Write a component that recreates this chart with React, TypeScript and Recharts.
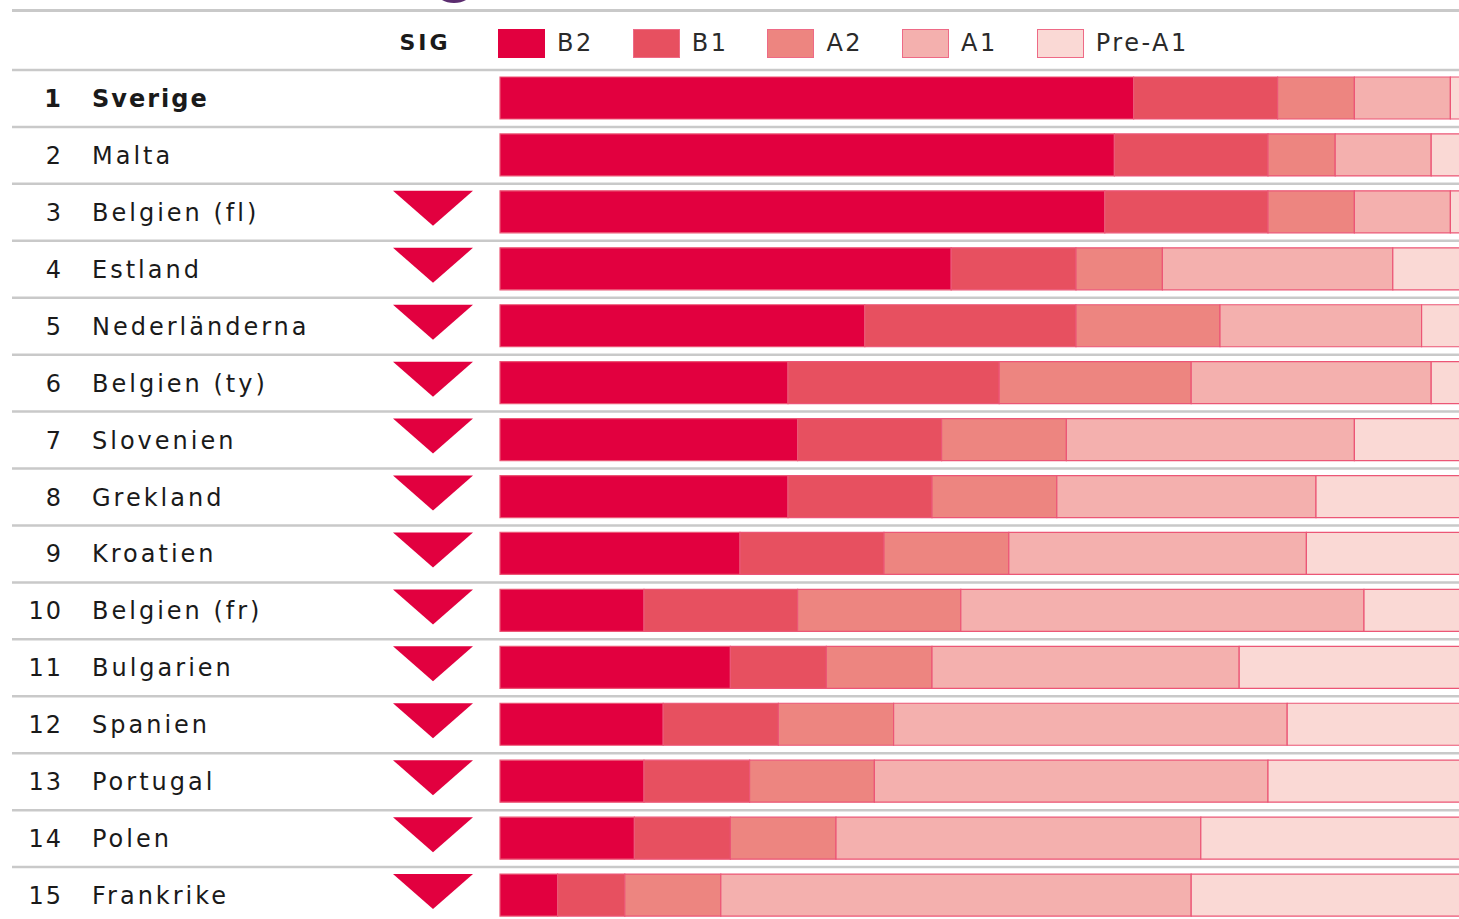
import React from 'react';
import { BarChart, Bar, XAxis, YAxis, Legend } from 'recharts';

const ranks = [1, 2, 3, 4, 5, 6, 7, 8, 9, 10, 11, 12, 13, 14, 15];
const countries = [
  'Sverige', 'Malta', 'Belgien (fl)', 'Estland', 'Nederländerna', 'Belgien (ty)', 'Slovenien',
  'Grekland', 'Kroatien', 'Belgien (fr)', 'Bulgarien', 'Spanien', 'Portugal', 'Polen', 'Frankrike',
];
const sig = [false, false, true, true, true, true, true, true, true, true, true, true, true, true, true];
const b2 = [66, 64, 63, 47, 38, 30, 31, 30, 25, 15, 24, 17, 15, 14, 6];
const b1 = [15, 16, 17, 13, 22, 22, 15, 15, 15, 16, 10, 12, 11, 10, 7];
const a2 = [8, 7, 9, 9, 15, 20, 13, 13, 13, 17, 11, 12, 13, 11, 10];
const a1 = [10, 10, 10, 24, 21, 25, 30, 27, 31, 42, 32, 41, 41, 38, 49];
const preA1 = [1, 3, 1, 7, 4, 3, 11, 15, 16, 10, 23, 18, 20, 27, 28];

const levels = ['B2', 'B1', 'A2', 'A1', 'Pre-A1'];
const levelKeys = ['b2', 'b1', 'a2', 'a1', 'preA1'];
const levelColors = ['#E2003F', '#E75060', '#ED8580', '#F4B0AE', '#FAD9D5'];

const data = countries.map((name, i) => ({
  name,
  b2: b2[i],
  b1: b1[i],
  a2: a2[i],
  a1: a1[i],
  preA1: preA1[i],
}));

const CHART_W = 1470;
const CHART_H = 924;
const TOP = 70;
const PLOT_H = CHART_H - TOP;
const BAND = PLOT_H / countries.length;
const FONT = '"DejaVu Sans", sans-serif';

const RowTick = (props: any) => {
  const { y, payload } = props;
  const idx = countries.indexOf(payload.value);
  const top = y - BAND / 2;
  const bold = idx === 0;
  return (
    <g>
      <line x1={12} x2={CHART_W} y1={top} y2={top} stroke="#c9c9c9" strokeWidth={2.5} />
      <text
        x={63}
        y={y + 8.5}
        textAnchor="end"
        fontFamily={FONT}
        fontSize={24}
        fontWeight={bold ? 'bold' : 'normal'}
        fill="#1a1a1a"
        style={{ letterSpacing: 2 }}
      >
        {ranks[idx]}
      </text>
      <text
        x={92}
        y={y + 8.5}
        textAnchor="start"
        fontFamily={FONT}
        fontSize={24}
        fontWeight={bold ? 'bold' : 'normal'}
        fill="#1a1a1a"
        style={{ letterSpacing: bold ? 2 : 3 }}
      >
        {payload.value}
      </text>
      {sig[idx] && (
        <polygon
          points={`393,${top + 7} 473,${top + 7} 433,${top + 42}`}
          fill="#E2003F"
        />
      )}
    </g>
  );
};

const renderLegend = (props: any) => {
  const payload = [...(props.payload || [])].sort(
    (p: any, q: any) => levels.indexOf(String(p.value)) - levels.indexOf(String(q.value))
  );
  return (
    <div style={{ position: 'relative', width: 1459, height: 70, fontFamily: FONT }}>
      <div
        style={{
          position: 'absolute', left: 437, top: -17, width: 28, height: 14,
          border: '3px solid #5b2c6f', borderRadius: '50%',
        }}
      />
      <div style={{ position: 'absolute', left: 12, top: 9, width: 1447, height: 2.5, background: '#c9c9c9' }} />
      <div
        style={{
          position: 'absolute', left: 375, top: 28, width: 100, height: 30, lineHeight: '30px',
          textAlign: 'center', fontSize: 22, fontWeight: 'bold', letterSpacing: 3, color: '#1a1a1a',
        }}
      >
        SIG
      </div>
      {payload.map((p: any, i: number) => (
        <div
          key={String(p.value)}
          style={{
            position: 'absolute', left: 498 + i * 134.7, top: 28, height: 30,
            display: 'flex', alignItems: 'center',
          }}
        >
          <span
            style={{
              display: 'inline-block', width: 47, height: 29, boxSizing: 'border-box',
              background: p.color, border: i === 0 ? 'none' : '1.5px solid #EE6A86',
            }}
          />
          <span style={{ marginLeft: 12, fontSize: 24, color: '#2a2a2a', letterSpacing: 2.5, lineHeight: '30px' }}>
            {p.value}
          </span>
        </div>
      ))}
    </div>
  );
};

export default function App() {
  return (
    <div style={{ width: 1459, height: 919, overflow: 'hidden', position: 'relative', background: '#fff' }}>
      <style>{'body{margin:0;overflow:hidden;background:#fff}'}</style>
      <BarChart
        width={CHART_W}
        height={CHART_H}
        data={data}
        layout="vertical"
        margin={{ top: TOP, right: 10, bottom: 0, left: 0 }}
        barSize={42}
      >
        <XAxis type="number" domain={[0, 100]} hide />
        <YAxis
          type="category"
          dataKey="name"
          width={500}
          axisLine={false}
          tickLine={false}
          interval={0}
          tick={<RowTick />}
        />
        <Legend
          layout="vertical"
          align="center"
          verticalAlign="middle"
          content={renderLegend}
          wrapperStyle={{ position: 'absolute', top: 0, left: 0, width: 1459, height: 70 }}
        />
        {levelKeys.map((k, i) => (
          <Bar
            key={k}
            dataKey={k}
            name={levels[i]}
            stackId="lvl"
            fill={levelColors[i]}
            stroke="#EC5676"
            strokeWidth={1.2}
            isAnimationActive={false}
          />
        ))}
      </BarChart>
    </div>
  );
}
